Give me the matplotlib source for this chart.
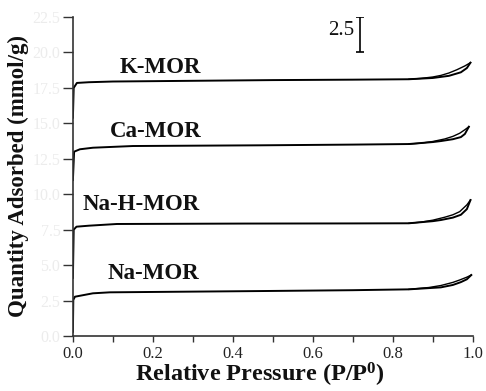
import matplotlib
matplotlib.use("Agg")
import matplotlib.pyplot as plt

plt.rcParams['font.family'] = ['Liberation Serif', 'DejaVu Serif']
plt.rcParams['mathtext.fontset'] = 'custom'
plt.rcParams['mathtext.rm'] = 'Liberation Serif:bold'
plt.rcParams['mathtext.default'] = 'rm'

# ---- data (offset isotherms, mmol/g) ----
samples = ["K-MOR", "Ca-MOR", "Na-H-MOR", "Na-MOR"]

k_ads_x = [0.0, 0.002, 0.01, 0.04, 0.1, 0.3, 0.5, 0.7, 0.84, 0.9, 0.94, 0.97, 0.985, 0.994]
k_ads_y = [15.4, 17.5, 17.85, 17.9, 17.95, 18.0, 18.05, 18.08, 18.11, 18.2, 18.35, 18.6, 18.9, 19.28]
k_des_x = [0.994, 0.98, 0.96, 0.94, 0.92, 0.9, 0.87, 0.84]
k_des_y = [19.28, 19.05, 18.78, 18.55, 18.38, 18.27, 18.17, 18.11]

ca_ads_x = [0.0, 0.003, 0.0175, 0.05, 0.15, 0.47, 0.7, 0.84, 0.9, 0.92, 0.95, 0.97, 0.98, 0.99]
ca_ads_y = [11.0, 13.0, 13.17, 13.28, 13.4, 13.45, 13.5, 13.54, 13.68, 13.75, 13.88, 14.03, 14.25, 14.76]
ca_des_x = [0.99, 0.98, 0.967, 0.95, 0.93, 0.9, 0.87, 0.84]
ca_des_y = [14.76, 14.55, 14.3, 14.08, 13.9, 13.72, 13.6, 13.54]

nah_ads_x = [0.0, 0.002, 0.009, 0.04, 0.11, 0.43, 0.7, 0.84, 0.9, 0.92, 0.95, 0.97, 0.985, 0.994]
nah_ads_y = [4.1, 7.5, 7.71, 7.78, 7.9, 7.93, 7.94, 7.95, 8.1, 8.18, 8.35, 8.55, 8.95, 9.59]
nah_des_x = [0.994, 0.985, 0.967, 0.95, 0.93, 0.9, 0.87, 0.84]
nah_des_y = [9.59, 9.25, 8.77, 8.55, 8.38, 8.17, 8.03, 7.95]

na_ads_x = [0.0, 0.001, 0.005, 0.05, 0.0925, 0.47, 0.7, 0.84, 0.92, 0.95, 0.97, 0.985, 0.996]
na_ads_y = [0.3, 2.54, 2.77, 3.01, 3.08, 3.17, 3.23, 3.29, 3.43, 3.6, 3.8, 4.0, 4.30]
na_des_x = [0.996, 0.985, 0.967, 0.95, 0.92, 0.89, 0.84]
na_des_y = [4.30, 4.15, 3.95, 3.78, 3.56, 3.42, 3.29]

label_x = [0.2175, 0.2075, 0.17, 0.20]
label_y = [18.97, 14.4, 9.24, 4.44]

x_ticks = [0.0, 0.2, 0.4, 0.6, 0.8, 1.0]
x_tick_labels = ["0.0", "0.2", "0.4", "0.6", "0.8", "1.0"]
y_ticks = [0.0, 2.5, 5.0, 7.5, 10.0, 12.5, 15.0, 17.5, 20.0, 22.5]
y_tick_labels = ["0.0", "2.5", "5.0", "7.5", "10.0", "12.5", "15.0", "17.5", "20.0", "22.5"]

scale_bar_x = 0.719
scale_bar_lo = 20.0
scale_bar_len = 2.5

# ---- figure ----
fig = plt.figure(figsize=(4.86, 3.91), dpi=100)
ax = fig.add_axes([0.150, 0.1407, 0.823, 0.8158])

series = [
    (k_ads_x, k_ads_y, k_des_x, k_des_y),
    (ca_ads_x, ca_ads_y, ca_des_x, ca_des_y),
    (nah_ads_x, nah_ads_y, nah_des_x, nah_des_y),
    (na_ads_x, na_ads_y, na_des_x, na_des_y),
]
for (ax_x, ax_y, ds_x, ds_y), name, lx, ly in zip(series, samples, label_x, label_y):
    ax.plot(ax_x, ax_y, color='black', lw=1.4, solid_joinstyle='round')
    ax.plot(ds_x, ds_y, color='black', lw=1.0)
    ax.text(lx, ly, name, ha='center', va='center', fontsize=16.5,
            fontweight='bold', color='#111111')

# scale bar
ax.errorbar([scale_bar_x], [scale_bar_lo + scale_bar_len / 2], yerr=[[scale_bar_len / 2]],
            fmt='none', ecolor='black', elinewidth=1.2, capsize=3, capthick=1.2)
ax.text(scale_bar_x - 0.015, scale_bar_lo + scale_bar_len * 0.62, str(scale_bar_len),
        ha='right', va='center', fontsize=15, color='#111111')

ax.set_xlim(0.0, 1.0)
ax.set_ylim(0.0, 22.5)
ax.set_xticks(x_ticks)
ax.set_xticklabels(x_tick_labels, fontsize=12, color='#222222')
ax.set_xticks([0.1, 0.3, 0.5, 0.7, 0.9], minor=True)
ax.set_yticks(y_ticks)
ax.set_yticklabels(y_tick_labels, fontsize=11.5, color='#ececec')

for s in ['top', 'right']:
    ax.spines[s].set_visible(False)
for s in ['left', 'bottom']:
    ax.spines[s].set_linewidth(1.2)
    ax.spines[s].set_color('#333333')

ax.tick_params(axis='x', which='both', direction='out', length=4, width=1.0, color='#333333', pad=3)
ax.tick_params(axis='y', which='major', direction='out', length=7, width=1.0, color='#333333', pad=2)

fig.text(0.037, 0.55, "Quantity Adsorbed (mmol/g)", rotation=90, ha='center', va='center',
         fontsize=16.5, fontweight='bold', color='#111111')
fig.text(0.535, 0.042, r"Relative Pressure (P/P$^{0}$)", ha='center', va='center',
         fontsize=17.5, fontweight='bold', color='#111111')

fig.savefig("out.png", dpi=100)
